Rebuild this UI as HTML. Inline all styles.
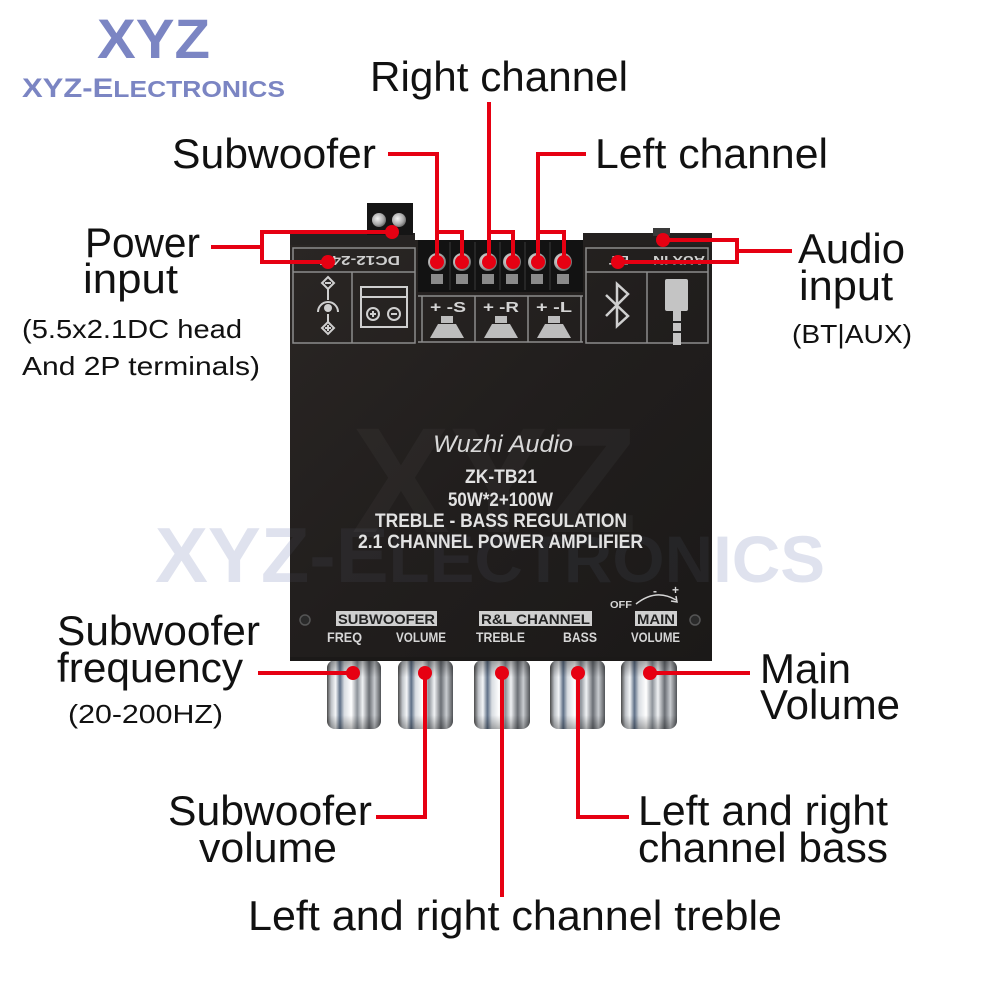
<!DOCTYPE html>
<html><head><meta charset="utf-8"><style>
html,body{margin:0;padding:0;background:#fff;}
svg{display:block;}
text{font-family:"Liberation Sans",Arial,sans-serif;}
</style></head><body>
<svg width="1000" height="1000" viewBox="0 0 1000 1000" xmlns="http://www.w3.org/2000/svg">
<defs>
  <linearGradient id="board" x1="0" y1="0" x2="1" y2="1">
    <stop offset="0" stop-color="#2a2624"/>
    <stop offset="0.5" stop-color="#211e1d"/>
    <stop offset="1" stop-color="#1b1918"/>
  </linearGradient>
  <linearGradient id="chrome" x1="0" y1="0" x2="1" y2="0">
    <stop offset="0" stop-color="#4a4a4a"/>
    <stop offset="0.08" stop-color="#bfc3c8"/>
    <stop offset="0.16" stop-color="#f4f6f8"/>
    <stop offset="0.24" stop-color="#5e6f86"/>
    <stop offset="0.32" stop-color="#d9dde2"/>
    <stop offset="0.45" stop-color="#ffffff"/>
    <stop offset="0.56" stop-color="#8d939a"/>
    <stop offset="0.66" stop-color="#f0f2f4"/>
    <stop offset="0.78" stop-color="#6b6f75"/>
    <stop offset="0.88" stop-color="#c9ccd0"/>
    <stop offset="1" stop-color="#505357"/>
  </linearGradient>
  <linearGradient id="knobshade" x1="0" y1="0" x2="0" y2="1">
    <stop offset="0" stop-color="#000" stop-opacity="0.35"/>
    <stop offset="0.25" stop-color="#000" stop-opacity="0"/>
    <stop offset="0.8" stop-color="#000" stop-opacity="0"/>
    <stop offset="1" stop-color="#000" stop-opacity="0.3"/>
  </linearGradient>
  <radialGradient id="screw" cx="0.4" cy="0.4" r="0.7">
    <stop offset="0" stop-color="#f2f2f2"/>
    <stop offset="0.6" stop-color="#a9a9a9"/>
    <stop offset="1" stop-color="#555"/>
  </radialGradient>
  <clipPath id="boardclip">
    <rect x="290" y="233" width="422" height="427"/>
  </clipPath>
</defs>

<!-- Logo -->
<text x="97" y="58" font-size="56" font-weight="bold" fill="#7b85c3" textLength="113" lengthAdjust="spacingAndGlyphs">XYZ</text>
<text x="22" y="97" font-size="27" font-weight="bold" fill="#7b85c3" textLength="263" lengthAdjust="spacingAndGlyphs">XYZ-E<tspan font-size="23">LECTRONICS</tspan></text>

<!-- watermark behind -->
<text x="155" y="582" font-size="78" font-weight="bold" fill="#dfe2ee" textLength="670" lengthAdjust="spacingAndGlyphs">XYZ-E<tspan font-size="66">LECTRONICS</tspan></text>

<!-- Board -->
<rect x="290" y="240" width="422" height="420" fill="url(#board)"/>
<rect x="290" y="233" width="125" height="12" fill="#262322"/>
<rect x="583" y="233" width="129" height="12" fill="#242120"/>
<rect x="653" y="228" width="17" height="8" fill="#3a3a3a"/>
<!-- small 2P terminal -->
<rect x="367" y="203" width="46" height="32" fill="#151515"/>
<circle cx="379" cy="220" r="7" fill="url(#screw)"/>
<circle cx="399" cy="220" r="7" fill="url(#screw)"/>

<!-- left panel box -->
<g fill="none" stroke="#8c8c8c" stroke-width="1.5">
  <rect x="293" y="248" width="122" height="95"/>
  <line x1="293" y1="272" x2="415" y2="272"/>
  <line x1="352" y1="272" x2="352" y2="343"/>
  <rect x="586" y="248" width="122" height="95"/>
  <line x1="586" y1="272" x2="708" y2="272"/>
  <line x1="647" y1="272" x2="647" y2="343"/>
  <line x1="418" y1="296" x2="583" y2="296"/>
  <line x1="418" y1="342" x2="583" y2="342"/>
  <line x1="422" y1="296" x2="422" y2="342"/>
  <line x1="475" y1="296" x2="475" y2="342"/>
  <line x1="528" y1="296" x2="528" y2="342"/>
  <line x1="581" y1="296" x2="581" y2="342"/>
</g>
<!-- center terminal block -->
<rect x="418" y="240" width="165" height="52" fill="#121212"/>
<g stroke="#2c2c2c" stroke-width="1.5">
  <line x1="450" y1="242" x2="450" y2="290"/>
  <line x1="475" y1="242" x2="475" y2="290"/>
  <line x1="500" y1="242" x2="500" y2="290"/>
  <line x1="525" y1="242" x2="525" y2="290"/>
  <line x1="550" y1="242" x2="550" y2="290"/>
</g>
<g>
  <circle cx="437" cy="262" r="9" fill="url(#screw)"/>
  <circle cx="462" cy="262" r="9" fill="url(#screw)"/>
  <circle cx="488" cy="262" r="9" fill="url(#screw)"/>
  <circle cx="512" cy="262" r="9" fill="url(#screw)"/>
  <circle cx="537" cy="262" r="9" fill="url(#screw)"/>
  <circle cx="563" cy="262" r="9" fill="url(#screw)"/>
</g>
<g fill="#8a8a8a">
  <rect x="431" y="274" width="12" height="10"/><rect x="456" y="274" width="12" height="10"/>
  <rect x="482" y="274" width="12" height="10"/><rect x="506" y="274" width="12" height="10"/>
  <rect x="531" y="274" width="12" height="10"/><rect x="557" y="274" width="12" height="10"/>
</g>

<!-- labels in panel -->
<text x="0" y="0" font-size="13" font-weight="bold" fill="#cfcfcf" transform="translate(400,256) rotate(180)" textLength="80" lengthAdjust="spacingAndGlyphs">DC12-24V</text>
<text x="0" y="0" font-size="12" font-weight="bold" fill="#cfcfcf" transform="translate(705,256) rotate(180)" textLength="52" lengthAdjust="spacingAndGlyphs">AUX IN</text>
<text x="0" y="0" font-size="12" font-weight="bold" fill="#cfcfcf" transform="translate(629,256) rotate(180)" textLength="20" lengthAdjust="spacingAndGlyphs">BT</text>
<g font-size="15" font-weight="bold" fill="#d4d4d4">
  <text x="430" y="312" textLength="36" lengthAdjust="spacingAndGlyphs">+ -S</text>
  <text x="483" y="312" textLength="36" lengthAdjust="spacingAndGlyphs">+ -R</text>
  <text x="536" y="312" textLength="36" lengthAdjust="spacingAndGlyphs">+ -L</text>
</g>
<g fill="#bdbdbd">
  <rect x="441" y="316" width="12" height="7"/><polygon points="438,324 456,324 464,338 430,338"/>
  <rect x="495" y="316" width="12" height="7"/><polygon points="492,324 510,324 518,338 484,338"/>
  <rect x="548" y="316" width="12" height="7"/><polygon points="545,324 563,324 571,338 537,338"/>
</g>
<!-- DC jack icon -->
<g stroke="#cfcfcf" stroke-width="2" fill="none">
  <polygon points="328,277 334,283 328,289 322,283"/>
  <line x1="325" y1="283" x2="331" y2="283"/>
  <line x1="328" y1="289" x2="328" y2="300"/>
  <path d="M318,312 A10,10 0 0 1 338,312"/>
  <line x1="328" y1="314" x2="328" y2="322"/>
  <polygon points="328,322 334,328 328,334 322,328"/>
  <line x1="325" y1="328" x2="331" y2="328"/>
  <line x1="328" y1="325" x2="328" y2="331"/>
</g>
<circle cx="328" cy="308" r="4" fill="#cfcfcf"/>
<!-- terminal icon -->
<g stroke="#cfcfcf" stroke-width="2" fill="none">
  <rect x="361" y="287" width="46" height="40"/>
  <line x1="361" y1="297" x2="407" y2="297"/>
  <circle cx="373" cy="314" r="6"/>
  <circle cx="394" cy="314" r="6"/>
  <line x1="370" y1="314" x2="376" y2="314"/><line x1="373" y1="311" x2="373" y2="317"/>
  <line x1="391" y1="314" x2="397" y2="314"/>
</g>
<!-- bluetooth -->
<polyline points="606,295 628,316 617,326 617,284 628,294 606,316" fill="none" stroke="#cfcfcf" stroke-width="2.5"/>
<!-- headphone jack -->
<rect x="665" y="279" width="23" height="32" rx="2" fill="#c4c4c4"/>
<rect x="673" y="311" width="8" height="34" fill="#c4c4c4"/>
<line x1="672" y1="322" x2="682" y2="322" stroke="#222" stroke-width="2"/>
<line x1="672" y1="332" x2="682" y2="332" stroke="#222" stroke-width="2"/>

<!-- faint XYZ watermark on board -->
<g clip-path="url(#boardclip)">
  <text x="352" y="532" font-size="150" font-weight="bold" fill="#ffffff" fill-opacity="0.035" textLength="285" lengthAdjust="spacingAndGlyphs">XYZ</text>
  <text x="155" y="582" font-size="78" font-weight="bold" fill="#9aa4d0" fill-opacity="0.07" textLength="670" lengthAdjust="spacingAndGlyphs">XYZ-E<tspan font-size="66">LECTRONICS</tspan></text>
</g>

<!-- board center text -->
<text x="433" y="452" font-family="Liberation Serif, serif" font-style="italic" font-size="24" fill="#d8d8d8" textLength="140" lengthAdjust="spacingAndGlyphs">Wuzhi Audio</text>
<g font-size="19" font-weight="bold" fill="#e2e2e2">
  <text x="465" y="483" textLength="72" lengthAdjust="spacingAndGlyphs">ZK-TB21</text>
  <text x="448" y="506" textLength="105" lengthAdjust="spacingAndGlyphs">50W*2+100W</text>
  <text x="375" y="527" textLength="252" lengthAdjust="spacingAndGlyphs">TREBLE - BASS REGULATION</text>
  <text x="358" y="548" textLength="285" lengthAdjust="spacingAndGlyphs">2.1 CHANNEL POWER AMPLIFIER</text>
</g>

<!-- bottom labels -->
<rect x="336" y="611" width="101" height="15" fill="#cfcfcf"/>
<rect x="479" y="611" width="113" height="15" fill="#cfcfcf"/>
<rect x="635" y="611" width="42" height="15" fill="#cfcfcf"/>
<g font-size="14" font-weight="bold" fill="#222">
  <text x="338" y="624" textLength="97" lengthAdjust="spacingAndGlyphs">SUBWOOFER</text>
  <text x="481" y="624" textLength="109" lengthAdjust="spacingAndGlyphs">R&amp;L CHANNEL</text>
  <text x="637" y="624" textLength="38" lengthAdjust="spacingAndGlyphs">MAIN</text>
</g>
<g font-size="14" font-weight="bold" fill="#d6d6d6">
  <text x="327" y="642" textLength="35" lengthAdjust="spacingAndGlyphs">FREQ</text>
  <text x="396" y="642" textLength="50" lengthAdjust="spacingAndGlyphs">VOLUME</text>
  <text x="476" y="642" textLength="49" lengthAdjust="spacingAndGlyphs">TREBLE</text>
  <text x="563" y="642" textLength="34" lengthAdjust="spacingAndGlyphs">BASS</text>
  <text x="631" y="642" textLength="49" lengthAdjust="spacingAndGlyphs">VOLUME</text>
</g>
<text x="610" y="608" font-size="10" font-weight="bold" fill="#d6d6d6" textLength="22" lengthAdjust="spacingAndGlyphs">OFF</text>
<path d="M636,604 Q656,588 676,600" fill="none" stroke="#d6d6d6" stroke-width="1.5"/>
<polyline points="671,601 677,602 676,596" fill="none" stroke="#d6d6d6" stroke-width="1.5"/>
<text x="653" y="595" font-size="12" font-weight="bold" fill="#d6d6d6">-</text>
<text x="672" y="594" font-size="12" font-weight="bold" fill="#d6d6d6">+</text>
<!-- screws -->
<circle cx="305" cy="620" r="5" fill="#2a2a2a" stroke="#555" stroke-width="1.5"/>
<circle cx="695" cy="620" r="5" fill="#2a2a2a" stroke="#555" stroke-width="1.5"/>
<circle cx="304" cy="398" r="0" fill="none"/>

<!-- Knobs -->
<g>
  <rect x="327" y="660" width="54" height="69" rx="8" fill="url(#chrome)"/>
  <rect x="327" y="660" width="54" height="69" rx="8" fill="url(#knobshade)"/>
  <rect x="398" y="660" width="55" height="69" rx="8" fill="url(#chrome)"/>
  <rect x="398" y="660" width="55" height="69" rx="8" fill="url(#knobshade)"/>
  <rect x="474" y="660" width="56" height="69" rx="8" fill="url(#chrome)"/>
  <rect x="474" y="660" width="56" height="69" rx="8" fill="url(#knobshade)"/>
  <rect x="550" y="660" width="55" height="69" rx="8" fill="url(#chrome)"/>
  <rect x="550" y="660" width="55" height="69" rx="8" fill="url(#knobshade)"/>
  <rect x="621" y="660" width="56" height="69" rx="8" fill="url(#chrome)"/>
  <rect x="621" y="660" width="56" height="69" rx="8" fill="url(#knobshade)"/>
</g>
<rect x="290" y="657" width="422" height="4" fill="#1b1918"/>

<!-- Red connectors -->
<g stroke="#e60012" stroke-width="4" fill="none" stroke-linecap="square">
  <!-- Subwoofer top -->
  <polyline points="390,154 437,154 437,262"/>
  <polyline points="437,232 462,232 462,262"/>
  <!-- Right channel -->
  <polyline points="489,104 489,262"/>
  <polyline points="489,232 513,232 513,262"/>
  <!-- Left channel -->
  <polyline points="584,154 538,154 538,262"/>
  <polyline points="538,232 564,232 564,262"/>
  <!-- Power -->
  <line x1="213" y1="247" x2="262" y2="247"/>
  <polyline points="392,232 262,232 262,262 328,262"/>
  <!-- Audio -->
  <line x1="737" y1="251" x2="790" y2="251"/>
  <polyline points="663,240 737,240 737,262 618,262"/>
  <!-- Bottom -->
  <line x1="260" y1="673" x2="353" y2="673"/>
  <polyline points="425,673 425,817 378,817"/>
  <line x1="502" y1="673" x2="502" y2="895"/>
  <polyline points="578,673 578,817 627,817"/>
  <line x1="650" y1="673" x2="748" y2="673"/>
</g>
<g fill="#e60012">
  <circle cx="437" cy="262" r="7"/><circle cx="462" cy="262" r="7"/>
  <circle cx="489" cy="262" r="7"/><circle cx="513" cy="262" r="7"/>
  <circle cx="538" cy="262" r="7"/><circle cx="564" cy="262" r="7"/>
  <circle cx="392" cy="232" r="7"/><circle cx="328" cy="262" r="7"/>
  <circle cx="663" cy="240" r="7"/><circle cx="618" cy="262" r="7"/>
  <circle cx="353" cy="673" r="7"/><circle cx="425" cy="673" r="7"/>
  <circle cx="502" cy="673" r="7"/><circle cx="578" cy="673" r="7"/>
  <circle cx="650" cy="673" r="7"/>
</g>

<!-- Labels -->
<g font-size="42" fill="#111">
  <text x="370" y="91" textLength="258" lengthAdjust="spacingAndGlyphs">Right channel</text>
  <text x="172" y="168" textLength="204" lengthAdjust="spacingAndGlyphs">Subwoofer</text>
  <text x="595" y="168" textLength="233" lengthAdjust="spacingAndGlyphs">Left channel</text>
  <text x="85" y="257" textLength="115" lengthAdjust="spacingAndGlyphs">Power</text>
  <text x="83" y="293" textLength="95" lengthAdjust="spacingAndGlyphs">input</text>
  <text x="798" y="263" textLength="107" lengthAdjust="spacingAndGlyphs">Audio</text>
  <text x="799" y="300" textLength="94" lengthAdjust="spacingAndGlyphs">input</text>
  <text x="57" y="645" textLength="203" lengthAdjust="spacingAndGlyphs">Subwoofer</text>
  <text x="57" y="682" textLength="186" lengthAdjust="spacingAndGlyphs">frequency</text>
  <text x="760" y="683" textLength="91" lengthAdjust="spacingAndGlyphs">Main</text>
  <text x="760" y="719" textLength="140" lengthAdjust="spacingAndGlyphs">Volume</text>
  <text x="168" y="825" textLength="204" lengthAdjust="spacingAndGlyphs">Subwoofer</text>
  <text x="199" y="862" textLength="138" lengthAdjust="spacingAndGlyphs">volume</text>
  <text x="638" y="825" textLength="250" lengthAdjust="spacingAndGlyphs">Left and right</text>
  <text x="638" y="862" textLength="250" lengthAdjust="spacingAndGlyphs">channel bass</text>
  <text x="248" y="930" textLength="534" lengthAdjust="spacingAndGlyphs">Left and right channel treble</text>
</g>
<g font-size="26" fill="#111">
  <text x="22" y="338" textLength="220" lengthAdjust="spacingAndGlyphs">(5.5x2.1DC head</text>
  <text x="22" y="375" textLength="238" lengthAdjust="spacingAndGlyphs">And 2P terminals)</text>
  <text x="792" y="343" textLength="120" lengthAdjust="spacingAndGlyphs">(BT|AUX)</text>
  <text x="68" y="723" textLength="155" lengthAdjust="spacingAndGlyphs">(20-200HZ)</text>
</g>
</svg>
</body></html>
